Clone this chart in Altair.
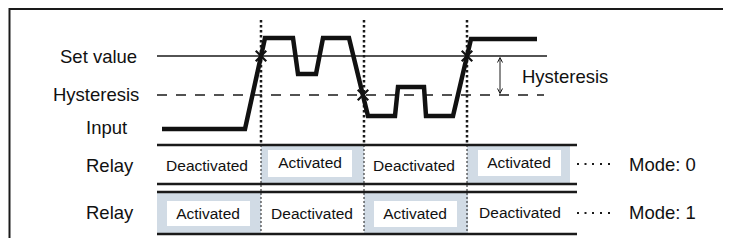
import altair as alt
import pandas as pd

# ---- data (diagram coordinates: time axis t, level axis v; v grows downward) ----
input_t = [162, 245, 265, 293, 298, 316, 323, 349, 368, 395, 398, 424, 426, 453, 471, 537]
input_v = [129, 129, 38, 38, 74, 74, 38, 38, 116, 116, 87, 87, 116, 116, 39, 39]

set_value_level = 56
hysteresis_level = 95
level_line_start = 157
set_value_end = 547
hyst_end = 544

switch_t = [261, 364, 467]
cross_t = [261, 363, 467]
cross_v = [56, 95, 56]

row_lines_v = [145, 184, 192, 234]
row_line_start = 157
row_line_end = 577

shade_x0 = [261, 467, 157, 364]
shade_x1 = [364, 570, 261, 468]
shade_y0 = [145, 145, 193, 193]
shade_y1 = [184, 184, 233, 233]

box_x0 = [268, 478, 167, 374]
box_x1 = [352, 561, 250, 457]
box_y0 = [150, 150, 201, 201]
box_y1 = [177, 176, 226, 227]

cell_text = ["Deactivated", "Activated", "Deactivated", "Activated",
             "Activated", "Deactivated", "Activated", "Deactivated"]
cell_x = [207, 310, 414, 519, 208, 312, 415, 520]
cell_y = [166, 163, 166, 163, 214, 214, 214, 213]

label_text = ["Set value", "Hysteresis", "Input", "Relay", "Relay", "Hysteresis", "Mode: 0", "Mode: 1"]
label_x = [60, 53, 86, 86, 86, 522, 629, 629]
label_y = [57, 95, 128, 166, 213, 77, 165, 213]

dots_x = [578, 585.5, 593, 601, 609]
dots_y = [164, 213]

arrow_t = 500
arrow_v0 = 58
arrow_v1 = 93

# ---- scales ----
W, H = 715, 230
xs = alt.Scale(domain=[8, 8 + W], nice=False, zero=False)
ys = alt.Scale(domain=[8, 8 + H], nice=False, zero=False, reverse=True)
INK = "#1a1a1a"
FONT = "Liberation Sans"


def X(f="x"):
    return alt.X(f"{f}:Q", scale=xs, axis=None)


def Y(f="y"):
    return alt.Y(f"{f}:Q", scale=ys, axis=None)


# frame
frame = pd.DataFrame({"x": [9, 9.5], "x2": [8 + W, 9.5], "y": [9, 8], "y2": [9, 8 + H]})
frame_l = alt.Chart(frame).mark_rule(color=INK, strokeWidth=2).encode(
    x=X(), x2="x2:Q", y=Y(), y2="y2:Q")

shade_df = pd.DataFrame({"x": shade_x0, "x2": shade_x1, "y": shade_y0, "y2": shade_y1})
shade = alt.Chart(shade_df).mark_rect(color="#d1dbe5").encode(
    x=X(), x2="x2:Q", y=Y(), y2="y2:Q")

box_df = pd.DataFrame({"x": box_x0, "x2": box_x1, "y": box_y0, "y2": box_y1})
boxes = alt.Chart(box_df).mark_rect(color="white").encode(
    x=X(), x2="x2:Q", y=Y(), y2="y2:Q")

rows_df = pd.DataFrame({"y": row_lines_v, "x": [row_line_start] * 4, "x2": [row_line_end] * 4})
rows = alt.Chart(rows_df).mark_rule(color=INK, strokeWidth=2.5).encode(
    x=X(), x2="x2:Q", y=Y())

vt_df = pd.DataFrame({"x": switch_t, "y": [20] * 3, "y2": [145] * 3})
vthick = alt.Chart(vt_df).mark_rule(color=INK, strokeWidth=2.5, strokeDash=[2.5, 2.5]).encode(
    x=X(), y=Y(), y2="y2:Q")
vn_df = pd.DataFrame({"x": switch_t, "y": [145] * 3, "y2": [234] * 3})
vthin = alt.Chart(vn_df).mark_rule(color=INK, strokeWidth=1, strokeDash=[2, 2]).encode(
    x=X(), y=Y(), y2="y2:Q")

sv_df = pd.DataFrame({"x": [level_line_start], "x2": [set_value_end], "y": [set_value_level]})
sv = alt.Chart(sv_df).mark_rule(color=INK, strokeWidth=1.5).encode(x=X(), x2="x2:Q", y=Y())
hy_df = pd.DataFrame({"x": [level_line_start], "x2": [hyst_end], "y": [hysteresis_level]})
hy = alt.Chart(hy_df).mark_rule(color=INK, strokeWidth=1.5, strokeDash=[10, 9]).encode(
    x=X(), x2="x2:Q", y=Y())

in_df = pd.DataFrame({"x": input_t, "y": input_v, "o": list(range(len(input_t)))})
inp = alt.Chart(in_df).mark_line(color="#111111", strokeWidth=4.5, strokeJoin="miter",
                                 strokeCap="butt").encode(x=X(), y=Y(), order="o:Q")

cr_df = pd.DataFrame({"x": cross_t, "y": cross_v})
crosses = alt.Chart(cr_df).mark_point(shape="M-1,-1L1,1M-1,1L1,-1", size=110, filled=False,
                                       color="#111111", strokeWidth=2.2, opacity=1).encode(x=X(), y=Y())

ar_df = pd.DataFrame({"x": [arrow_t], "y": [arrow_v0], "y2": [arrow_v1]})
arrow = alt.Chart(ar_df).mark_rule(color=INK, strokeWidth=1).encode(x=X(), y=Y(), y2="y2:Q")
ah_up = alt.Chart(pd.DataFrame({"x": [arrow_t], "y": [arrow_v0 + 2]})).mark_point(
    shape="M-1,1L0,-1L1,1", size=25, filled=False, color=INK, strokeWidth=1, opacity=1).encode(x=X(), y=Y())
ah_dn = alt.Chart(pd.DataFrame({"x": [arrow_t], "y": [arrow_v1 - 2]})).mark_point(
    shape="M-1,-1L0,1L1,-1", size=25, filled=False, color=INK, strokeWidth=1, opacity=1).encode(x=X(), y=Y())

dots_df = pd.DataFrame({"x": dots_x * 2, "y": [dots_y[0]] * 5 + [dots_y[1]] * 5})
dots = alt.Chart(dots_df).mark_square(size=4, color=INK, opacity=1).encode(x=X(), y=Y())

cell_df = pd.DataFrame({"x": cell_x, "y": cell_y, "t": cell_text})
cells = alt.Chart(cell_df).mark_text(font=FONT, fontSize=15.5, color="#111111", align="center",
                                     baseline="middle").encode(x=X(), y=Y(), text="t:N")

lab_df = pd.DataFrame({"x": label_x, "y": label_y, "t": label_text})
labels = alt.Chart(lab_df).mark_text(font=FONT, fontSize=18.5, color="#111111", align="left",
                                     baseline="middle").encode(x=X(), y=Y(), text="t:N")

chart = alt.layer(
    frame_l, shade, boxes, vthick, vthin, rows, sv, hy, inp, crosses,
    arrow, ah_up, ah_dn, dots, cells, labels
).properties(
    width=W, height=H, padding=0, autosize=alt.AutoSizeParams(type="none")
).configure_view(stroke=None)

chart.save("out.html", embed_options={"renderer": "svg", "actions": False})
